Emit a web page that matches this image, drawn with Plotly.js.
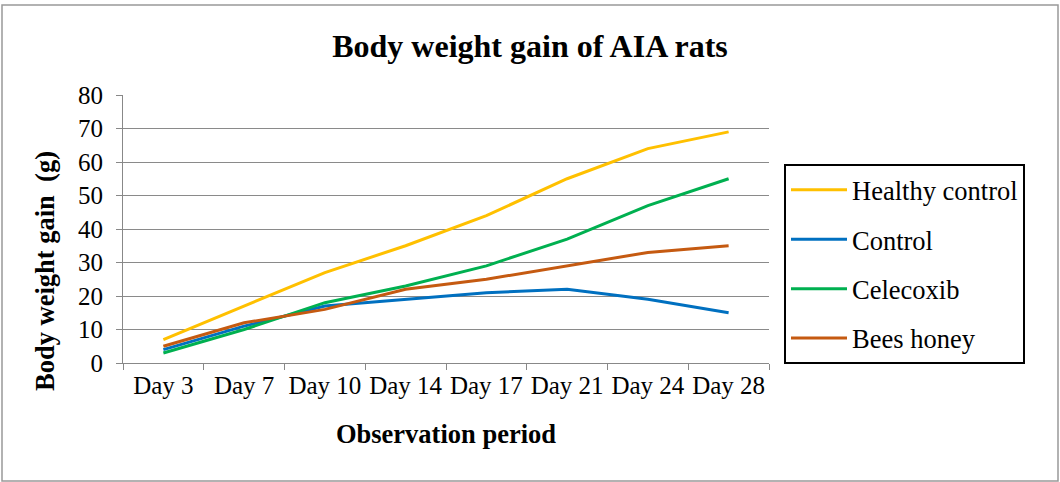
<!DOCTYPE html>
<html>
<head>
<meta charset="utf-8">
<script src="https://cdn.plot.ly/plotly-3.0.1.min.js"></script>
<style>
html,body{margin:0;padding:0;background:#fff;}
#chart{width:1060px;height:482px;}
</style>
</head>
<body>
<div id="chart"></div>
<script>
const days = ["Day 3","Day 7","Day 10","Day 14","Day 17","Day 21","Day 24","Day 28"];
const healthyControl = [7, 17, 27, 35, 44, 55, 64, 69];
const control = [4, 11, 17, 19, 21, 22, 19, 15];
const celecoxib = [3, 10, 18, 23, 29, 37, 47, 55];
const beesHoney = [5, 12, 16, 22, 25, 29, 33, 35];
const seriesNames = ["Healthy control","Control","Celecoxib","Bees honey"];
const seriesColors = ["#FFC000","#0070C0","#00B050","#C55A11"];
const seriesValues = [healthyControl, control, celecoxib, beesHoney];

const FONT = "Liberation Serif";

const traces = seriesValues.map((vals, i) => ({
  type: "scatter",
  mode: "lines",
  x: days,
  y: vals,
  name: seriesNames[i],
  legendgroup: "g" + i,
  line: {color: seriesColors[i], width: 3},
  hoverinfo: "skip"
}));

const L = 123, R = 769, T = 95, B = 363, W = 1060, H = 482;
const pw = R - L, ph = B - T;
const px = v => (v - L) / pw;
const py = v => (B - v) / ph;

const layout = {
  width: W, height: H,
  margin: {l: L, r: W - R, t: T, b: H - B, pad: 0},
  paper_bgcolor: "#fff",
  plot_bgcolor: "#fff",
  font: {family: FONT, color: "#000"},
  title: {
    text: "<b>Body weight gain of AIA rats</b>",
    font: {family: FONT, size: 32, color: "#000"},
    x: 0.5, xref: "container", xanchor: "center",
    y: 1 - 46 / H, yref: "container", yanchor: "middle"
  },
  xaxis: {
    type: "category",
    range: [-0.5, 7.5],
    showgrid: false,
    showline: true, linecolor: "#888", linewidth: 1,
    ticks: "outside", tickson: "boundaries", ticklen: 6, tickcolor: "#888",
    tickangle: 0,
    tickfont: {family: FONT, size: 25, color: "#000"},
    title: {text: "<b>Observation period</b>", font: {family: FONT, size: 26.5, color: "#000"}, standoff: 26},
    fixedrange: true
  },
  yaxis: {
    range: [0, 80],
    dtick: 10,
    showgrid: true, gridcolor: "#8a8a8a", gridwidth: 1,
    zeroline: false,
    showline: true, linecolor: "#888", linewidth: 1,
    ticks: "outside", ticklen: 6, tickcolor: "#888",
    ticklabelstandoff: 8,
    tickfont: {family: FONT, size: 25, color: "#000"},
    fixedrange: true
  },
  showlegend: true,
  legend: {
    x: px(784), y: py(164), xanchor: "left", yanchor: "top",
    bordercolor: "#000", borderwidth: 2, bgcolor: "#fff",
    font: {family: FONT, size: 26.5, color: "#000"},
    traceorder: "grouped", tracegroupgap: 12,
    itemwidth: 56
  },
  annotations: [{
    text: "<b>Body weight gain\u00a0\u00a0(g)</b>",
    textangle: -90,
    xref: "paper", yref: "paper",
    x: px(45), y: py(271), xanchor: "center", yanchor: "middle",
    showarrow: false,
    font: {family: FONT, size: 26.5, color: "#000"}
  }],
  shapes: [{
    type: "rect", xref: "paper", yref: "paper",
    x0: px(2), x1: px(1058), y0: py(481), y1: py(5),
    line: {color: "#999", width: 1.5}, fillcolor: "rgba(0,0,0,0)", layer: "below"
  }]
};

Plotly.newPlot("chart", traces, layout, {displayModeBar: false, staticPlot: true});
</script>
</body>
</html>
